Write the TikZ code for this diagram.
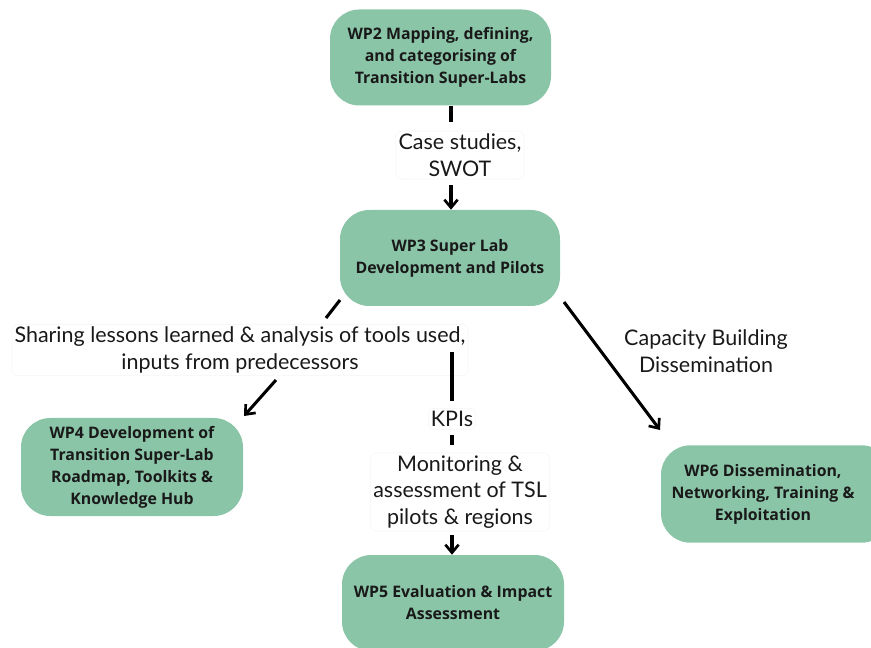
\documentclass[tikz,border=0pt]{standalone}
\usepackage{fontspec}
\setmainfont{Lato}
\newfontfamily\boxfont{Open Sans}
\usetikzlibrary{arrows.meta}
\definecolor{wpgreen}{RGB}{139,197,168}
\tikzset{
  wp/.style={fill=wpgreen, rounded corners=22pt, align=center, font=\boxfont\fontsize{11.9}{16.5}\selectfont\bfseries, text=black!90},
  lbl/.style={fill=white, draw=black!4, rounded corners=4pt, align=center, font=\fontsize{16.1}{20}\selectfont, inner sep=2pt, text=black!90},
  conn/.style={line width=2.3pt, black},
  arr/.style={conn, -{Straight Barb[length=6pt,width=10pt,line width=2pt]}}
}
\begin{document}
\begin{tikzpicture}[x=0.75pt,y=-0.75pt]
\useasboundingbox (0,0) rectangle (871,648);
\node[wp, minimum width=165.75pt, minimum height=72pt] (wp2) at (440.5,57.5) {WP2 Mapping, defining,\\and categorising of\\Transition Super-Labs};
\node[wp, minimum width=165pt, minimum height=72pt] (wp3) at (450,258) {WP3 Super Lab\\Development and Pilots};
\node[wp, minimum width=166.5pt, minimum height=73.5pt] (wp4) at (132,467) {WP4 Development of\\Transition Super-Lab\\Roadmap, Toolkits \&\\Knowledge Hub};
\node[wp, minimum width=166.5pt, minimum height=72pt] (wp5) at (453,603) {WP5 Evaluation \& Impact\\Assessment};
\node[wp, minimum width=172.5pt, minimum height=73pt] (wp6) at (776,494) {};
\node[font=\boxfont\fontsize{11.9}{16.5}\selectfont\bfseries, align=center, text=black!90] (wp6t) at (763,494) {WP6 Dissemination,\\Networking, Training \&\\Exploitation};

\node[lbl] (l1) at (460,155) {Case studies,\\SWOT};
\node[lbl] (l2) at (240,350) {Sharing lessons learned \& analysis of tools used,\\inputs from predecessors};
\node[lbl] (l3) at (452,419) {KPIs};
\node[lbl] (l4) at (460,492) {Monitoring \&\\assessment of TSL\\pilots \& regions};
\node[align=center, font=\fontsize{16.1}{20}\selectfont, text=black!90] (l5) at (706,351) {Capacity Building\\Dissemination};

\coordinate (a1) at (451,122);
\coordinate (a2) at (451,185);
\draw[conn] (wp2.south -| a1) -- (a1);
\draw[arr] (a2) -- (wp3.north -| a2);

\coordinate (b1) at (340,300);
\coordinate (b2) at (326,318);
\coordinate (b3) at (276,380);
\coordinate (b4) at (244,416);
\draw[conn] (b1) -- (b2);
\draw[arr] (b3) -- (b4);

\coordinate (c0) at (452,352);
\coordinate (c1) at (452,401);
\coordinate (c2) at (452,435);
\coordinate (c3) at (452,445);
\coordinate (c4) at (452,535);
\draw[conn] (c0) -- (c1);
\draw[conn] (c2) -- (c3);
\draw[arr] (c4) -- (wp5.north -| c4);

\coordinate (d1) at (564,302);
\coordinate (d2) at (660,430);
\draw[arr] (d1) -- (d2);
\end{tikzpicture}
\end{document}
